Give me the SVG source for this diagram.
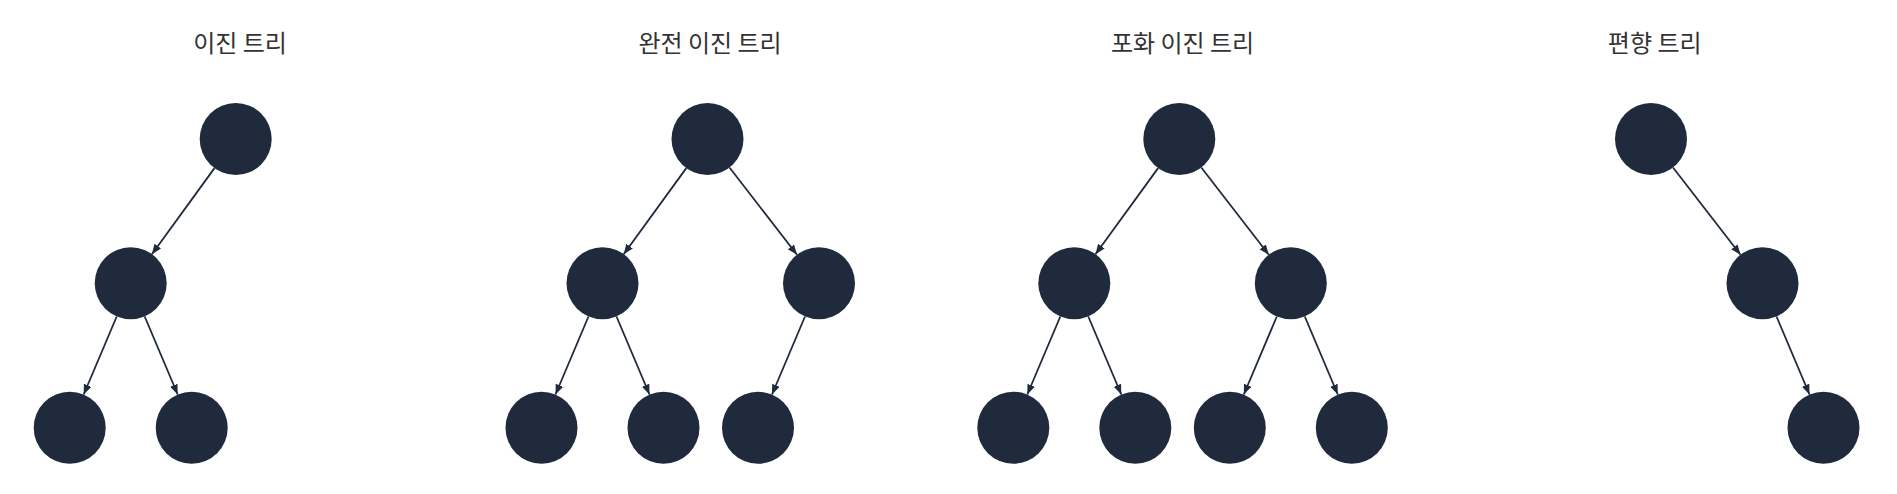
<svg xmlns="http://www.w3.org/2000/svg" width="1897" height="494" viewBox="0 0 1897 494">
  <style>
    .title { font-family: "Noto Sans CJK KR", "Noto Sans", sans-serif; font-size: 24px; fill: #333333; text-anchor: middle; }
    .node { fill: #1f2a3d; }
    .edge { stroke: #1f2a3d; stroke-width: 1.8; fill: none; marker-end: url(#arrow); }
  </style>
  <defs>
    <marker id="arrow" markerUnits="userSpaceOnUse" markerWidth="11" markerHeight="9" refX="10" refY="4" orient="auto">
      <path d="M0,0 L10,4 L0,8 z" fill="#1f2a3d"/>
    </marker>
  </defs>
  <rect width="1897" height="494" fill="#ffffff"/>

  <g id="titles">
    <text class="title" x="240" y="52">이진 트리</text>
    <text class="title" x="710" y="52">완전 이진 트리</text>
    <text class="title" x="1182.5" y="52">포화 이진 트리</text>
    <text class="title" x="1654.7" y="52">편향 트리</text>
  </g>

  <g id="connectors">
    <!-- tree 1 -->
    <line class="edge" x1="214.5" y1="168.1" x2="151.9" y2="254.2"/>
    <line class="edge" x1="116.7" y1="316.5" x2="83.7" y2="394.5"/>
    <line class="edge" x1="144.7" y1="316.5" x2="177.7" y2="394.5"/>
    <!-- tree 2 -->
    <line class="edge" x1="686.3" y1="168.1" x2="623.7" y2="254.2"/>
    <line class="edge" x1="729.5" y1="167.5" x2="797.0" y2="254.8"/>
    <line class="edge" x1="588.5" y1="316.5" x2="555.5" y2="394.5"/>
    <line class="edge" x1="616.5" y1="316.5" x2="649.5" y2="394.5"/>
    <line class="edge" x1="805.0" y1="316.5" x2="772.0" y2="394.5"/>
    <!-- tree 3 -->
    <line class="edge" x1="1158.1" y1="168.1" x2="1095.5" y2="254.2"/>
    <line class="edge" x1="1201.3" y1="167.5" x2="1268.8" y2="254.8"/>
    <line class="edge" x1="1060.3" y1="316.5" x2="1027.3" y2="394.5"/>
    <line class="edge" x1="1088.3" y1="316.5" x2="1121.3" y2="394.5"/>
    <line class="edge" x1="1276.8" y1="316.5" x2="1243.8" y2="394.5"/>
    <line class="edge" x1="1304.8" y1="316.5" x2="1337.8" y2="394.5"/>
    <!-- tree 4 -->
    <line class="edge" x1="1673.0" y1="167.5" x2="1740.5" y2="254.8"/>
    <line class="edge" x1="1776.5" y1="316.5" x2="1809.5" y2="394.5"/>
  </g>

  <g id="tree1">
    <g id="t1-root"><circle class="node" cx="235.7" cy="139" r="36"/></g>
    <g id="t1-l"><circle class="node" cx="130.7" cy="283.3" r="36"/></g>
    <g id="t1-ll"><circle class="node" cx="69.7" cy="427.7" r="36"/></g>
    <g id="t1-lr"><circle class="node" cx="191.7" cy="427.7" r="36"/></g>
  </g>
  <g id="tree2">
    <g id="t2-root"><circle class="node" cx="707.5" cy="139" r="36"/></g>
    <g id="t2-l"><circle class="node" cx="602.5" cy="283.3" r="36"/></g>
    <g id="t2-r"><circle class="node" cx="819" cy="283.3" r="36"/></g>
    <g id="t2-ll"><circle class="node" cx="541.5" cy="427.7" r="36"/></g>
    <g id="t2-lr"><circle class="node" cx="663.5" cy="427.7" r="36"/></g>
    <g id="t2-rl"><circle class="node" cx="758" cy="427.7" r="36"/></g>
  </g>
  <g id="tree3">
    <g id="t3-root"><circle class="node" cx="1179.3" cy="139" r="36"/></g>
    <g id="t3-l"><circle class="node" cx="1074.3" cy="283.3" r="36"/></g>
    <g id="t3-r"><circle class="node" cx="1290.8" cy="283.3" r="36"/></g>
    <g id="t3-ll"><circle class="node" cx="1013.3" cy="427.7" r="36"/></g>
    <g id="t3-lr"><circle class="node" cx="1135.3" cy="427.7" r="36"/></g>
    <g id="t3-rl"><circle class="node" cx="1229.8" cy="427.7" r="36"/></g>
    <g id="t3-rr"><circle class="node" cx="1351.8" cy="427.7" r="36"/></g>
  </g>
  <g id="tree4">
    <g id="t4-root"><circle class="node" cx="1651" cy="139" r="36"/></g>
    <g id="t4-r"><circle class="node" cx="1762.5" cy="283.3" r="36"/></g>
    <g id="t4-rr"><circle class="node" cx="1823.5" cy="427.7" r="36"/></g>
  </g>
</svg>
